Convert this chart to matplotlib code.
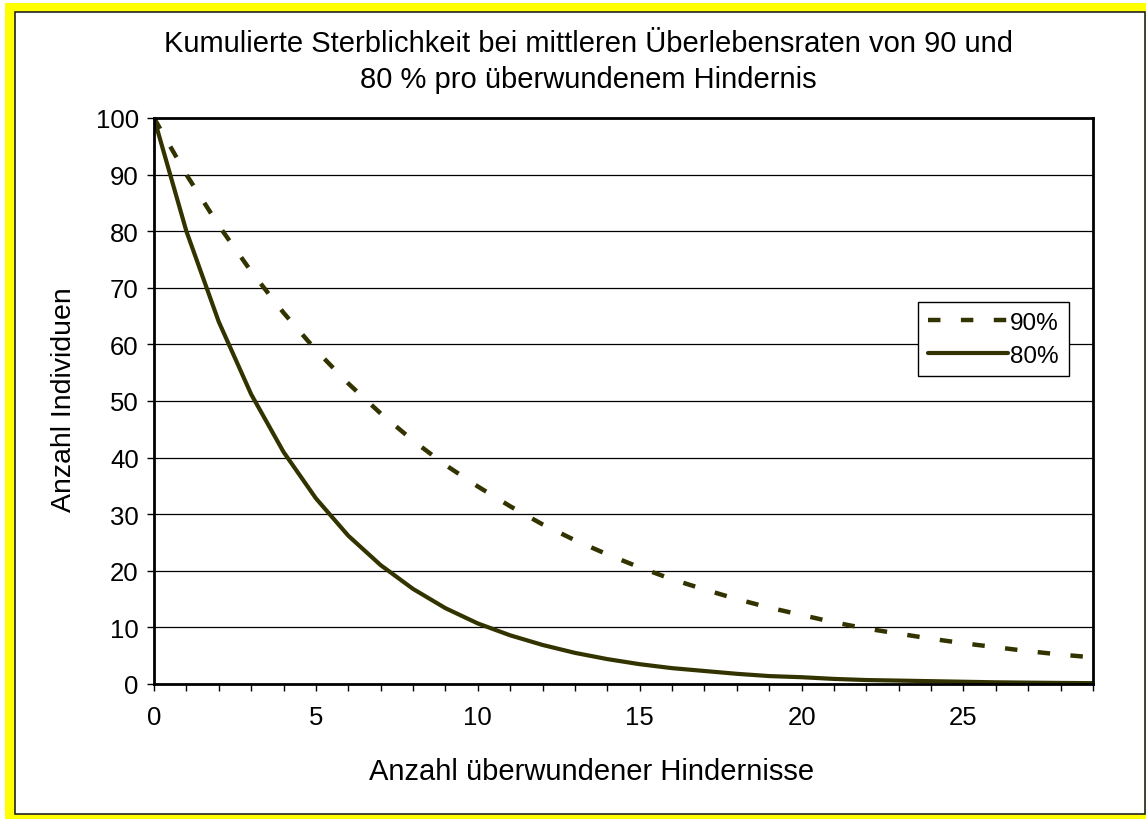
import matplotlib.pyplot as plt
from matplotlib.patches import Rectangle

plt.rcParams['font.family'] = ['Liberation Sans', 'DejaVu Sans']

# Anzahl ueberwundener Hindernisse
hindernisse = list(range(30))
# (Anzahl Individuen)
rate_90 = [100, 90, 81, 72.9, 65.6, 59.0, 53.1, 47.8, 43.0, 38.7,
           34.9, 31.4, 28.2, 25.4, 22.9, 20.6, 18.5, 16.7, 15.0, 13.5,
           12.2, 10.9, 9.8, 8.9, 8.0, 7.2, 6.5, 5.8, 5.2, 4.7]
rate_80 = [100, 80, 64, 51.2, 41.0, 32.8, 26.2, 21.0, 16.8, 13.4,
           10.7, 8.6, 6.9, 5.5, 4.4, 3.5, 2.8, 2.3, 1.8, 1.4,
           1.2, 0.9, 0.7, 0.6, 0.5, 0.4, 0.3, 0.24, 0.19, 0.15]
labels = ['90%', '80%']
title = ('Kumulierte Sterblichkeit bei mittleren Überlebensraten von 90 und\n'
         '80 % pro überwundenem Hindernis')

W, H = 1146, 820
fig = plt.figure(figsize=(W / 100, H / 100), dpi=100)
fig.patch.set_facecolor('white')

# yellow frame + white panel
fig.patches.append(Rectangle((5 / W, 0), 1 - 5 / W, 1 - 4 / H,
                             transform=fig.transFigure, facecolor='#ffff00',
                             edgecolor='none', zorder=-3))
fig.patches.append(Rectangle((15 / W, 5 / H), (1145 - 15) / W, (815 - 13) / H,
                             transform=fig.transFigure, facecolor='white',
                             edgecolor='#222222', lw=1.2, zorder=-2))

left, right, top, bottom = 154, 1093, 119, 685
ax = fig.add_axes([left / W, 1 - bottom / H, (right - left) / W, (bottom - top) / H])

col = '#333300'
ax.plot(hindernisse, rate_90, color=col, lw=3.2, dashes=(2.8, 4.6),
        dash_capstyle='butt', label=labels[0])
ax.plot(hindernisse, rate_80, color=col, lw=3, solid_capstyle='round',
        label=labels[1])

ax.set_xlim(0, 29)
ax.set_ylim(0, 100)
ax.set_yticks(range(0, 101, 10))
ax.set_xticks(hindernisse)
ax.set_xticklabels([str(x) if x % 5 == 0 else '' for x in hindernisse])
ax.tick_params(axis='both', direction='out', length=5, width=1,
               labelsize=18.5, pad=6)
ax.tick_params(axis='x', pad=10)
ax.grid(axis='y', color='black', lw=0.9)
ax.set_axisbelow(True)
for s in ax.spines.values():
    s.set_linewidth(2)
    s.set_color('black')

fig.text(588 / W, 1 - 62 / H, title, ha='center', va='center', fontsize=21,
         linespacing=1.35)
fig.text(592 / W, 1 - 772 / H, 'Anzahl überwundener Hindernisse',
         ha='center', va='center', fontsize=21)
fig.text(64 / W, 1 - 400 / H, 'Anzahl Individuen', ha='center', va='center',
         fontsize=20.5, rotation=90)

leg = ax.legend(loc='upper left', bbox_to_anchor=(918 / W, 1 - 303 / H),
                bbox_transform=fig.transFigure, fontsize=17.5, frameon=True,
                fancybox=False, edgecolor='black', framealpha=1,
                handlelength=3.3, handletextpad=0.1, borderpad=0.4,
                labelspacing=0.45, borderaxespad=0)
leg.get_frame().set_linewidth(1)

fig.savefig('out.png', dpi=100)
